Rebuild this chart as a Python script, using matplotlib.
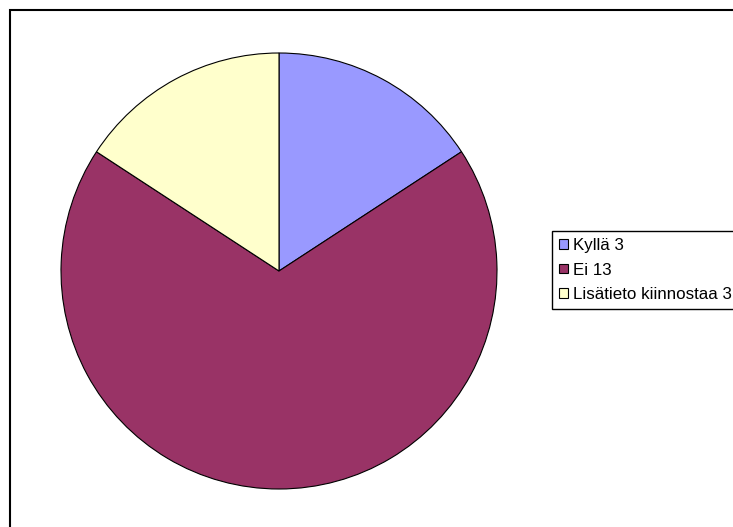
import matplotlib
matplotlib.use("Agg")
import matplotlib.pyplot as plt
from matplotlib.patches import Rectangle

labels = ["Kyllä 3", "Ei 13", "Lisätieto kiinnostaa 3"]
values = [3, 13, 3]
colors = ["#9999FF", "#993366", "#FFFFCC"]

plt.rcParams['font.family'] = ['Liberation Sans', 'DejaVu Sans']

W, H = 733, 527
fig = plt.figure(figsize=(W / 100, H / 100), dpi=100)
ax = fig.add_axes([0, 0, 1, 1])

wedges, _ = ax.pie(values, colors=colors, startangle=90, counterclock=False,
                   center=(279, H - 271), radius=218, frame=True,
                   wedgeprops=dict(edgecolor='black', linewidth=0.8))
ax.set_xlim(0, W)
ax.set_ylim(0, H)
ax.set_aspect('auto')
ax.axis('off')

ax.add_patch(Rectangle((9.5, -10), W + 20, H - 9.5 + 10, fill=False,
                       edgecolor='black', linewidth=1.5, clip_on=False))

leg = ax.legend(wedges, labels, loc='upper left',
                bbox_to_anchor=(552 / W, 1 - 231 / H), borderaxespad=0,
                frameon=True, fancybox=False, edgecolor='black', framealpha=1,
                handlelength=0.5, handleheight=0.5, handletextpad=0.32,
                labelspacing=0.56, borderpad=0.42, fontsize=12.2)
leg.get_frame().set_linewidth(1.0)

fig.savefig("out.png", dpi=100)
